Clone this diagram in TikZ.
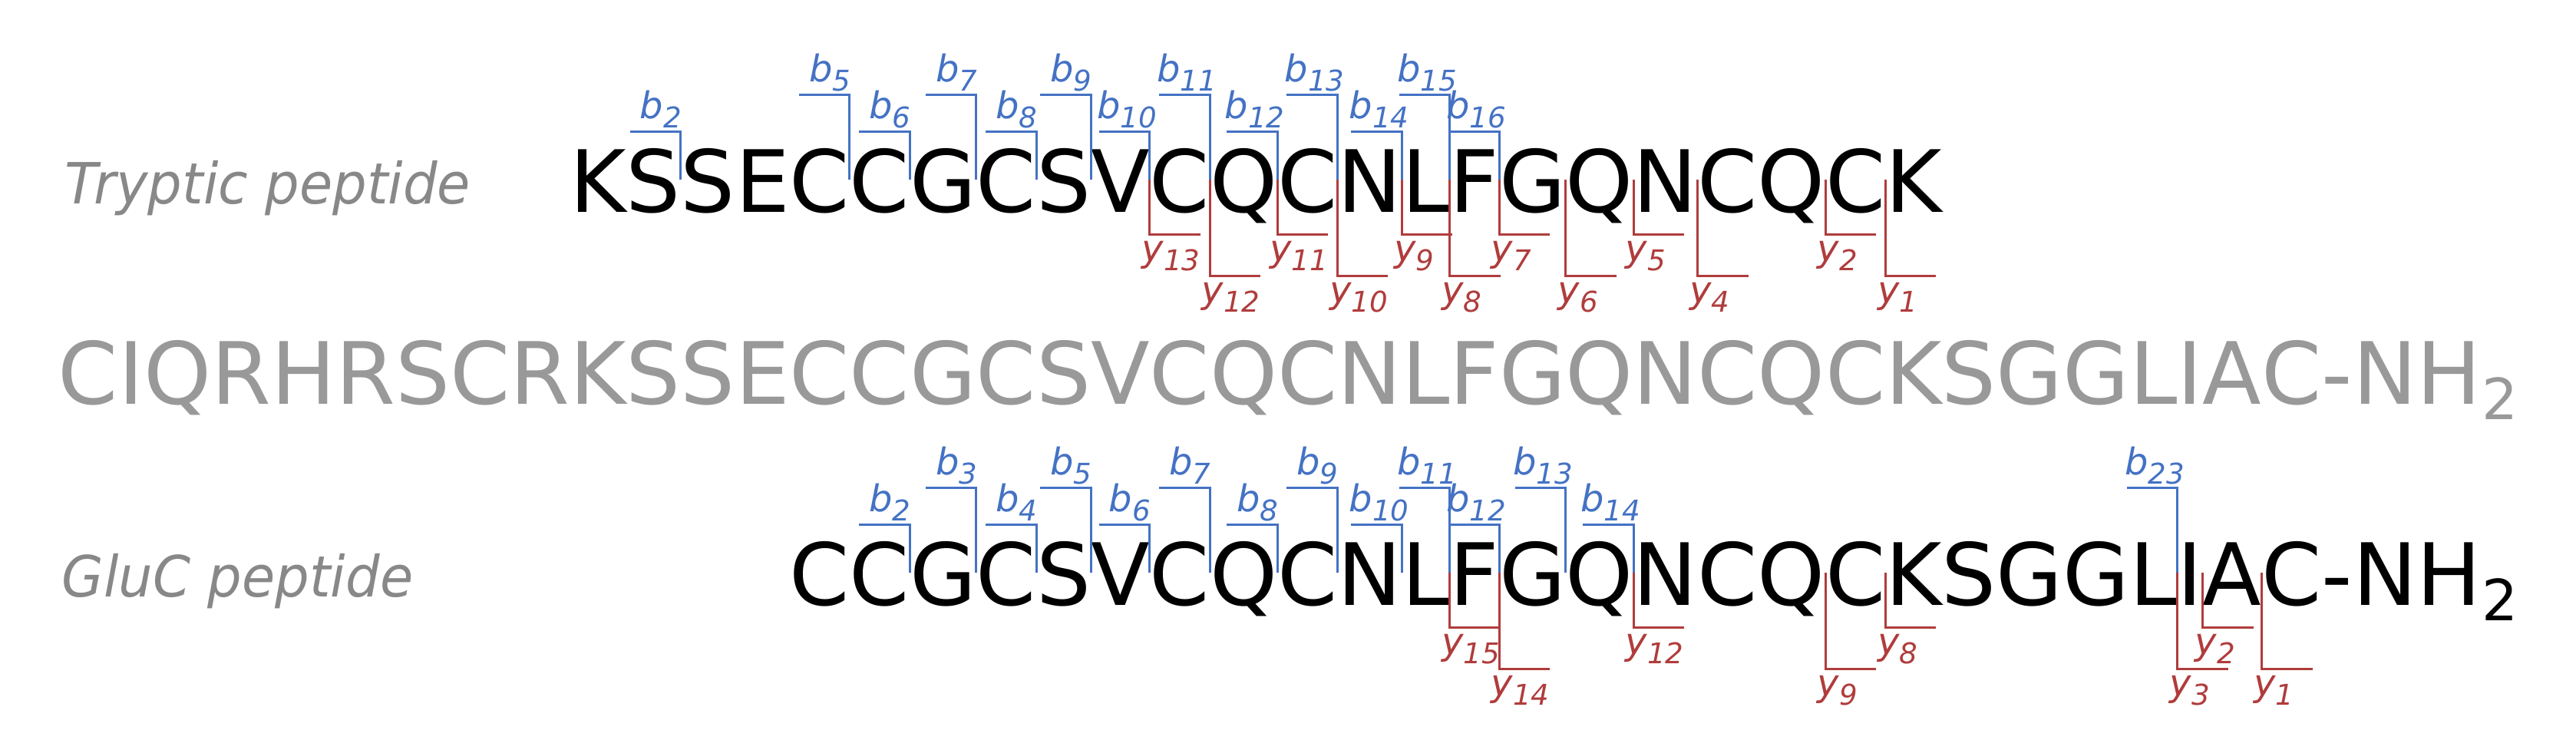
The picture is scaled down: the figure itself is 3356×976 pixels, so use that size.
\documentclass[tikz,border=0pt]{standalone}
\usepackage{fontspec}
\usetikzlibrary{calc}
\newfontfamily\seqfont{DejaVu Sans}
\newfontfamily\lblfont[FakeStretch=0.95]{DejaVu Sans}
\newfontfamily\ionfont{DejaVu Sans}
\definecolor{bblue}{RGB}{68,114,196}
\definecolor{yred}{RGB}{176,60,60}
\definecolor{seqgrey}{RGB}{153,153,153}
\definecolor{lblgrey}{RGB}{136,136,136}
\newcommand\ionlab[2]{#1\raisebox{-3pt}{\fontsize{9.3}{10}\selectfont #2}}
\begin{document}
\begin{tikzpicture}[x=0.25pt,y=-0.25pt,
  res/.style={inner sep=0pt, outer sep=0pt, anchor=base west, font={\seqfont\fontsize{28}{30}\selectfont}},
  greyres/.style={res, text=seqgrey},
  blackres/.style={res, text=black},
  subtwo/.style={inner sep=0pt, outer sep=0pt, anchor=base west, font={\seqfont\fontsize{18.5}{20}\selectfont}},
  rowlabel/.style={inner sep=0pt, anchor=base west, text=lblgrey, font={\lblfont\itshape\fontsize{18.5}{20}\selectfont}},
  bline/.style={draw=bblue, line width=0.75pt},
  yline/.style={draw=yred, line width=0.75pt},
  blab/.style={inner sep=0pt, anchor=base east, text=bblue, font={\ionfont\itshape\fontsize{12}{13}\selectfont}},
  ylab/.style={inner sep=0pt, anchor=base west, text=yred, font={\ionfont\itshape\fontsize{12}{13}\selectfont}},
]
\useasboundingbox (0,0) rectangle (3356,976);

% full grey sequence
\node[greyres] (g1) at (76,526) {C};
\foreach \c [count=\i from 2, remember=\i as \j (initially 1)] in {I,Q,R,H,R,S,C,R,K,S,S,E,C,C,G,C,S,V,C,Q,C,N,L,F,G,Q,N,C,Q,C,K,S,G,G,L,I,A,C,-,N,H}
  \node[greyres] (g\i) at (g\j.base east) {\c};
\node[subtwo, text=seqgrey] (g43) at ([yshift=-5pt]g42.base east) {2};

% tryptic peptide
\coordinate (rowT) at (0,276);
\foreach \c [count=\i] in {K,S,S,E,C,C,G,C,S,V,C,Q,C,N,L,F,G,Q,N,C,Q,C,K} {
  \pgfmathtruncatemacro\k{\i+9}
  \node[blackres] (t\i) at (g\k.base west |- rowT) {\c};
}

% GluC peptide
\coordinate (rowG) at (0,788);
\foreach \c [count=\i] in {C,C,G,C,S,V,C,Q,C,N,L,F,G,Q,N,C,Q,C,K,S,G,G,L,I,A,C,-,N,H} {
  \pgfmathtruncatemacro\k{\i+13}
  \node[blackres] (u\i) at (g\k.base west |- rowG) {\c};
}
\node[subtwo] (u30) at ([yshift=-5pt]u29.base east) {2};

% row labels
\node[rowlabel] (lt) at (84,265) {Tryptic peptide};
\node[rowlabel] (lg) at (80,777) {GluC peptide};

% tryptic b ions
\foreach \n/\lev in {2/105,5/153,6/105,7/153,8/105,9/153,10/105,11/153,12/105,13/153,14/105,15/153,16/105} {
  \pgfmathtruncatemacro\bo{\n<10 ? 2 : 10}
  \draw[bline] ($(t\n.base east)+(0,-42)$) -- ($(t\n.base east)+(0,-\lev)$) coordinate (tb\n) -- ++(-66,0);
  \node[blab] (tbl\n) at ($(tb\n)+(\bo,-17)$) {\ionlab{b}{\n}};
}
% tryptic y ions
\foreach \n/\lev in {13/29,12/83,11/29,10/83,9/29,8/83,7/29,6/83,5/29,4/83,2/29,1/83} {
  \pgfmathtruncatemacro\r{23-\n}
  \draw[yline] ($(t\r.base east)+(0,-42)$) -- ($(t\r.base east)+(0,\lev)$) coordinate (ty\n) -- ++(66,0);
  \node[ylab] (tyl\n) at ($(ty\n)+(-11,35)$) {\ionlab{y}{\n}};
}

% GluC b ions
\foreach \n/\lev in {2/105,3/153,4/105,5/153,6/105,7/153,8/105,9/153,10/105,11/153,12/105,13/153,14/105,23/153} {
  \pgfmathtruncatemacro\bo{\n<10 ? 2 : 10}
  \draw[bline] ($(u\n.base east)+(0,-42)$) -- ($(u\n.base east)+(0,-\lev)$) coordinate (ub\n) -- ++(-66,0);
  \node[blab] (ubl\n) at ($(ub\n)+(\bo,-17)$) {\ionlab{b}{\n}};
}
% GluC y ions
\foreach \n/\lev in {15/29,14/83,12/29,9/83,8/29,3/83,2/29,1/83} {
  \pgfmathtruncatemacro\r{26-\n}
  \draw[yline] ($(u\r.base east)+(0,-42)$) -- ($(u\r.base east)+(0,\lev)$) coordinate (uy\n) -- ++(66,0);
  \node[ylab] (uyl\n) at ($(uy\n)+(-11,35)$) {\ionlab{y}{\n}};
}
\end{tikzpicture}
\end{document}
